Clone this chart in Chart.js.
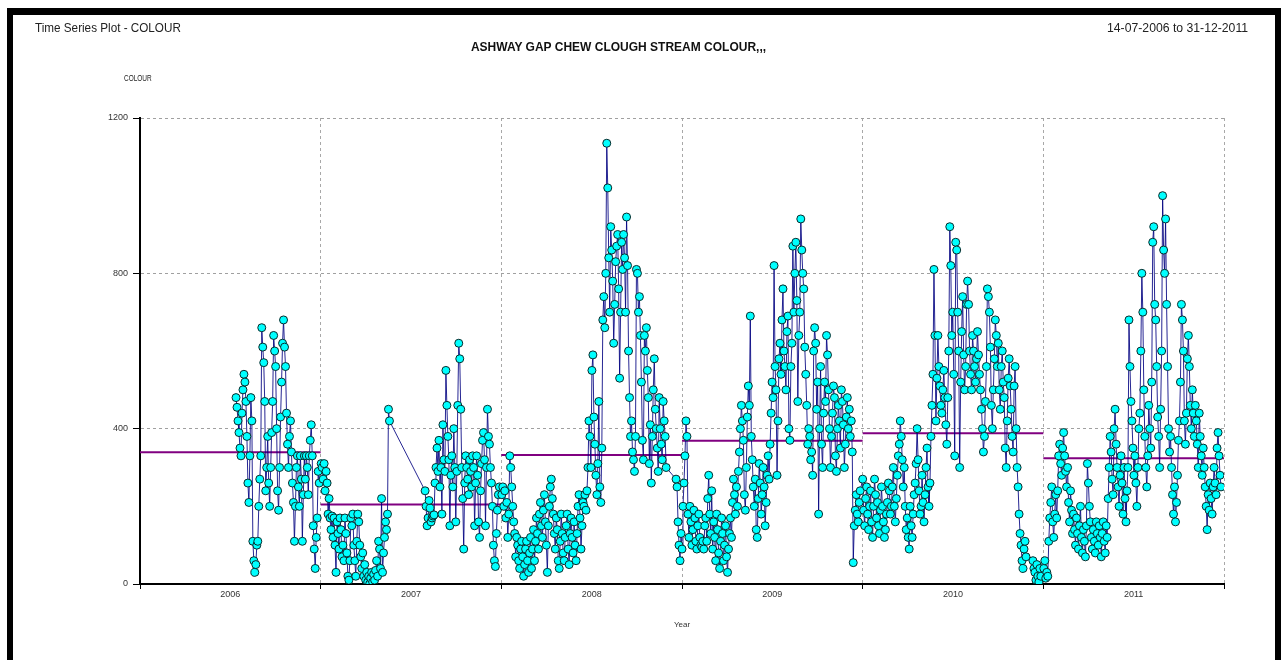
<!DOCTYPE html>
<html>
<head>
<meta charset="utf-8">
<title>ASHWAY GAP CHEW CLOUGH STREAM COLOUR</title>
<script src="https://cdn.jsdelivr.net/npm/chart.js@4.4.0/dist/chart.umd.min.js"></script>
<style>
  html, body { margin: 0; padding: 0; background: #fff; overflow: hidden; }
  body { width: 1281px; height: 660px; position: relative; font-family: 'Liberation Sans', Arial, sans-serif; color: #222; }
  #moldura { position: absolute; left: 7px; top: 8px; width: 1274px; height: 720px; box-sizing: border-box;
             border-top: 7px solid #000; border-left: 6px solid #000; border-right: 6px solid #000; pointer-events: none; }
  .txt { position: absolute; white-space: nowrap; }
  #esq { left: 35px; top: 20px; font-size: 13px; line-height: 15px; transform: scaleX(0.9); transform-origin: left center; }
  #dir { right: 33px; top: 20px; font-size: 13px; line-height: 15px; transform: scaleX(0.94); transform-origin: right center; }
  #titulo { left: 0; width: 1237px; text-align: center; top: 40px; font-size: 12px; line-height: 14px; font-weight: bold; color: #111; }
  #ylab { left: 124px; top: 73px; font-size: 9px; line-height: 11px; transform: scaleX(0.72); transform-origin: left center; }
  #grafico { position: absolute; left: 0; top: 0; }
</style>
</head>
<body>
<canvas id="grafico" width="1281" height="660"></canvas>
<div id="moldura"></div>
<div class="txt" id="esq">Time Series Plot - COLOUR</div>
<div class="txt" id="dir">14-07-2006 to 31-12-2011</div>
<div class="txt" id="titulo">ASHWAY GAP CHEW CLOUGH STREAM COLOUR,,,</div>
<div class="txt" id="ylab">COLOUR</div>
<script>
// ----------------------- Dados --------------------------------------------//
// samples every 2 days, each block starts at the given day of the year

var stepDays = 2;

var start2006 = 194;
var colour2006 = [480,455,420,390,350,330,440,500,540,520,470,380,260,210,330,480,420,110,60,30,
    50,100,110,200,270,330,660,610,570,470,
    240,300,380,260,200,300,390,470,640,600,560,400,240,190,300,430,520,620,680,610,
    560,440,360,300,380,420,340,260,210,110,200,300,330,250,200,330,270,110,230,330,
    270,330,300,230,330,370,410,330,150,90,40,120,170,290,260];

var start2007a = 1;
var colour2007a = [310,300,270,310,240,290,260,180,220,170,140,175,120,170,100,30,160,130,90,170,
    140,70,100,60,170,130,80,20,10,60,170,150,180,100,60,20,110,180,160,100,
    70,40,80,20,50,10,30,5,20,0,15,30,5,25,10,35,60,20,110,90,
    40,220,30,80,120,160,140,180,450,420];

var start2007b = 211;
var colour2007b = [240,200,150,170,215,195,160,170,175,178,260,300,350,290,370,250,300,180,410,320,
    290,550,460,380,320,150,280,330,250,400,300,160,290,460,620,580,450,300,220,90,
    260,330,300,270,230,320,290,250,330,300,150,260,330,280,160,120,240,310,370,390,
    320,150,300,450,380,360,300,260,200,100,60,45,130,190,230,250];

var start2008a = 1;
var colour2008a = [230,250,200,240,170,210,120,180,330,300,250,200,160,130,70,120,100,60,40,90,
    110,70,20,50,90,110,60,30,80,120,40,90,140,60,110,170,130,90,180,210,
    150,120,190,230,160,100,30,150,200,250,270,220,180,130,90,170,140,60,40,110,
    180,130,80,60,120,150,180,90,50,130,170,120,80,160,100,60,130,200,230,170,
    90,150,210,200,230,190,240,300,420,380,300,550,590,430,360,280,230,310,470,250,
    210,350,680,740,660,800,1135,1020,840,700,920,860,780,620,720,830,870,900,760,530,
    700,880,810,900,840,700,945,820,600,480,380,420,340,320,290,380,810,800,700,740,
    640,520,370,320,640,600,660,550,480,310,410,260,380,500,580,450,400,350,290,480,
    400,360,320,470,420,380,300];

var start2008b = 353;
var colour2008b = [270,250,160,100,60,130,90];

var start2009 = 2;
var colour2009 = [200,260,330,420,380,180,120,200,160,100,140,190,170,110,90,150,180,120,100,95,
    110,90,150,170,110,220,280,180,130,240,90,160,120,60,180,140,80,40,110,170,
    130,60,100,150,70,30,90,130,170,120,210,270,230,180,250,200,290,340,400,460,
    420,370,230,190,300,430,510,460,690,380,320,250,200,270,140,120,220,310,260,180,
    230,300,250,150,210,280,330,270,360,440,520,480,820,560,500,280,420,580,620,540,
    680,760,600,560,500,650,690,400,370,560,620,870,700,800,880,730,470,640,700,940,
    860,800,760,610,540,460,360,400,380,320,340,280,600,660,620,450,520,180,400,560,
    360,300,440,520,470,640,590,500,400,300,380,440,510,480,330,290,400,460,420,350,
    500,470,410,300,360,430,480,400,450,380,420,340,55,150,190,230,180,160,210,240];

var start2010a = 0;
var colour2010a = [270,190,150,220,250,180,140,200,240,160,120,200,270,230,170,210,150,130,190,250,
    200,160,120,140,180,210,260,240,180,200,250,300,200,160,220,280,330,360,420,380,
    320,250,300,200,140,170,120,90,200,150,120,180,230,260,310,400,320,240,180,200,
    280,210,160,230,300,350,250,200,260,380,460,540,810,640,420,530,640,560,510,460,
    440,500,550,480,410,360,480,600,920,820,640,700,540,330,880,860,700,600,300,520,
    650,740,590,500,560,720,780,720,600,540,500,640,600,560,520,580,650,590,540,500,
    450,400,340,380,470,560,760,740,700,610,460,400,500,580,680,640,560,620,500,450,
    560,600,520,480,350,300,420,530,580,510,450,380,340,510,560,400,300,250,180,130,
    100,60,40,90,110,70];

var start2010b = 344;
var colour2010b = [60,40,30,10,50,20,5,40,20];

var start2011 = 1;
var colour2011 = [40,60,15,30,20,110,170,210,250,160,120,180,230,170,240,330,360,310,280,350,
    390,330,290,250,300,210,160,240,190,130,180,140,100,170,130,90,150,200,120,80,
    140,110,70,150,310,260,200,160,120,90,140,110,80,160,130,100,150,120,70,130,
    160,110,80,150,120,220,300,380,340,270,230,400,450,360,300,250,200,280,330,260,
    180,300,220,160,240,300,680,560,470,420,350,280,330,260,200,300,400,440,600,800,
    700,500,380,300,250,330,460,400,350,520,880,920,720,680,560,430,380,300,450,600,
    1000,860,800,940,720,560,400,340,380,300,230,180,250,160,210,280,370,420,520,720,
    680,600,420,360,440,580,640,560,460,400,500,440,380,460,420,360,300,440,380,330,
    280,350,300,250,200,140,230,190,260,220,180,250,300,260,230,350,390,330,280,250];

// yearly means (purple lines)
var meanYears = [2006, 2007, 2008, 2009, 2010, 2011];
var meanValues = [339, 205, 332, 369, 388, 324];

// x axis: year boundaries + mid-year label positions
var yearTicks = [2006, 2006.5, 2007, 2007.5, 2008, 2008.5, 2009, 2009.5, 2010, 2010.5, 2011, 2011.5, 2012];
var yTicks = [0, 400, 800, 1200];

// ----------------------- Montagem --------------------------------------------//

var points = [];
function addSegment(year, startDay, values) {
    for (var i = 0; i < values.length; i++) {
        points.push({ x: year + (startDay + i * stepDays) / 365, y: values[i] });
    }
}
addSegment(2006, start2006, colour2006);
addSegment(2007, start2007a, colour2007a);
addSegment(2007, start2007b, colour2007b);
addSegment(2008, start2008a, colour2008a);
addSegment(2008, start2008b, colour2008b);
addSegment(2009, start2009, colour2009);
addSegment(2010, start2010a, colour2010a);
addSegment(2010, start2010b, colour2010b);
addSegment(2011, start2011, colour2011);

var datasets = [{
    data: points,
    showLine: true,
    borderColor: 'rgba(0,0,128,0.85)',
    borderWidth: 1,
    pointRadius: 4,
    pointBorderWidth: 1,
    pointBackgroundColor: '#00ffff',
    pointBorderColor: '#0a2a2a'
}];

meanYears.forEach(function (yr, i) {
    datasets.push({
        data: [{ x: yr, y: meanValues[i] }, { x: yr + 1, y: meanValues[i] }],
        showLine: true,
        borderColor: '#800080',
        borderWidth: 2,
        pointRadius: 0
    });
});

var fonte = { family: "'Liberation Sans', Arial, sans-serif", size: 9 };

var ctx = document.getElementById("grafico").getContext("2d");
var grafico = new Chart(ctx, {
    type: 'scatter',
    data: { datasets: datasets },
    options: {
        responsive: false,
        animation: false,
        layout: { padding: { top: 118, right: 57, left: 0, bottom: 0 } },
        plugins: {
            legend: { display: false },
            tooltip: { enabled: false },
            title: { display: false }
        },
        scales: {
            x: {
                type: 'linear',
                min: 2006,
                max: 2012,
                afterBuildTicks: function (axis) {
                    axis.ticks = yearTicks.map(function (v) { return { value: v }; });
                },
                afterFit: function (axis) { axis.height = 76; },
                grid: {
                    color: function (c) {
                        return c.tick && Number.isInteger(c.tick.value) ? '#a8a8a8' : 'rgba(0,0,0,0)';
                    },
                    tickColor: function (c) {
                        return c.tick && Number.isInteger(c.tick.value) ? '#000' : 'rgba(0,0,0,0)';
                    },
                    tickLength: 5,
                    lineWidth: 1
                },
                border: { color: '#000', width: 2, dash: [3, 3] },
                ticks: {
                    autoSkip: false,
                    maxRotation: 0,
                    minRotation: 0,
                    padding: 0,
                    color: '#333',
                    font: fonte,
                    callback: function (v) { return Number.isInteger(v) ? '' : String(Math.floor(v)); }
                },
                title: { display: true, text: 'Year', color: '#333', font: { family: fonte.family, size: 8 }, padding: { top: 0, bottom: 30 } }
            },
            y: {
                min: 0,
                max: 1200,
                afterBuildTicks: function (axis) {
                    axis.ticks = yTicks.map(function (v) { return { value: v }; });
                },
                afterFit: function (axis) { axis.width = 140; },
                grid: { color: '#a0a0a0', tickColor: '#000', tickLength: 7, lineWidth: 1 },
                border: { color: '#000', width: 2, dash: [3, 3] },
                ticks: {
                    padding: 5,
                    color: '#333',
                    font: fonte,
                    callback: function (v) { return String(v); }
                }
            }
        }
    }
});
</script>
</body>
</html>
